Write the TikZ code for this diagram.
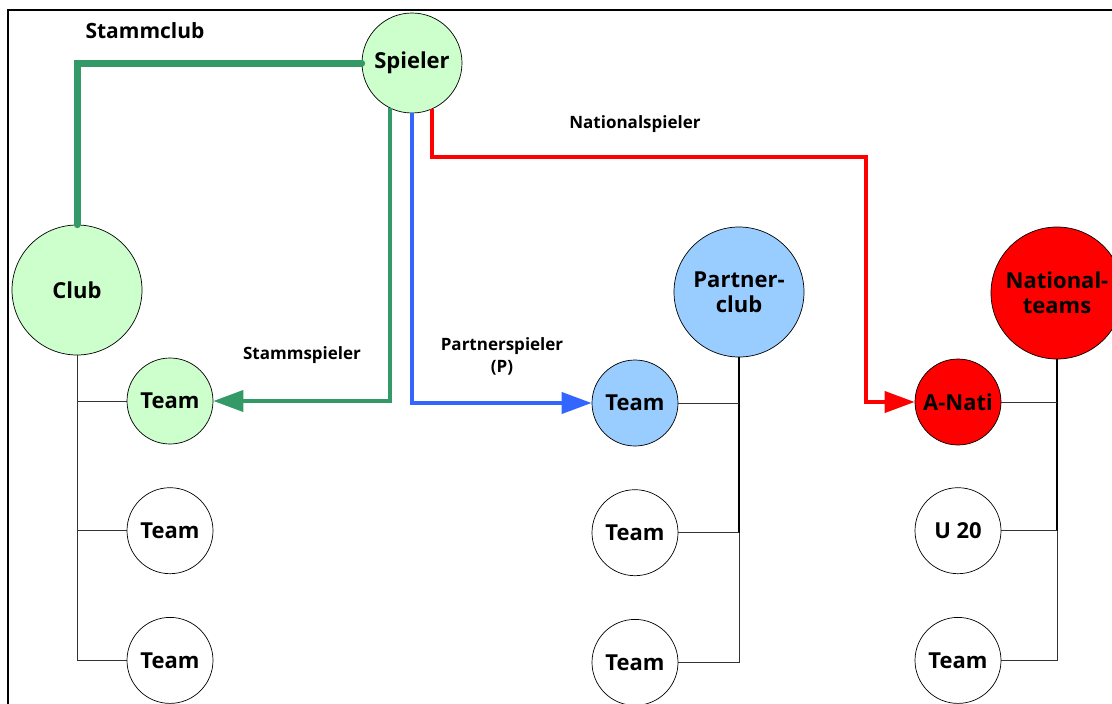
\documentclass[tikz,border=0pt]{standalone}
\usepackage{fontspec}
\setmainfont{Open Sans}
\usepackage{tikz}
\usetikzlibrary{arrows.meta, positioning}

\definecolor{spielgreen}{HTML}{CCFFCC}
\definecolor{stammgreen}{HTML}{339966}
\definecolor{partnerblue}{HTML}{99CCFF}
\definecolor{linkblue}{HTML}{3366FF}
\definecolor{natired}{HTML}{FF0000}

\begin{document}
\begin{tikzpicture}[x=1pt, y=-1pt,
    ball/.style={circle, draw, line width=0.7pt, inner sep=0pt, minimum size=86pt,
        font=\fontsize{22}{25}\selectfont\bfseries, align=center},
    bigball/.style={ball, minimum size=130pt},
    lbl/.style={font=\fontsize{17}{22}\selectfont\bfseries, align=center},
    link/.style={line width=4pt, -{Triangle[length=30pt, width=21pt]}},
    branch/.style={line width=0.8pt, black!80},
    trunk/.style={line width=1.8pt}]
    \useasboundingbox (0,0) rectangle (1112,704);
    \draw[line width=2pt] (8,10) rectangle (1130,720);

    % Spieler and the three clubs
    \node[ball, fill=spielgreen, minimum size=100pt] (spieler) at (412,63) {Spieler};
    \node[bigball, fill=spielgreen] (club) at (77,290) {Club};
    \node[bigball, fill=partnerblue] (pclub) at (739,292) {Partner-\\club};
    \node[bigball, fill=natired, minimum size=132pt] (nati) at (1057,293) {National-\\teams};

    % teams
    \node[ball, fill=spielgreen] (team1) at (170,401) {Team};
    \node[ball, below=43pt of team1] (team2) {Team};
    \node[ball, below=43pt of team2] (team3) {Team};

    \node[ball, fill=partnerblue] (pteam1) at (635,403) {Team};
    \node[ball, below=43pt of pteam1] (pteam2) {Team};
    \node[ball, below=43pt of pteam2] (pteam3) {Team};

    \node[ball, fill=natired] (anati) at (958,402) {A-Nati};
    \node[ball, below=42pt of anati] (u20) {U 20};
    \node[ball, below=43pt of u20] (nteam) {Team};

    % tree lines
    \draw[branch] (club.south) |- (team3.west);
    \draw[branch] (club.south |- team1) -- (team1.west);
    \draw[branch] (club.south |- team2) -- (team2.west);

    \draw[trunk] (pclub.south) -- (pclub.south |- pteam2);
    \draw[branch] (pclub.south |- pteam2) |- (pteam3.east);
    \draw[branch] (pteam1.east) -- (pclub.south |- pteam1);
    \draw[branch] (pteam2.east) -- (pclub.south |- pteam2);

    \draw[trunk] (nati.south) -- (nati.south |- u20);
    \draw[branch] (nati.south |- u20) |- (nteam.east);
    \draw[branch] (anati.east) -- (nati.south |- anati);
    \draw[branch] (u20.east) -- (nati.south |- u20);

    % player links
    \coordinate (redturn) at (866,157);
    \draw[stammgreen, line width=7pt, line cap=round] (spieler.west) -| (club.north);
    \draw[link, stammgreen] (spieler.-116) |- (team1.east);
    \draw[link, linkblue] (spieler.south) |- (pteam1.west);
    \draw[link, natired] (spieler.-66) |- (redturn) |- (anati.west);

    % labels
    \node[lbl, font=\fontsize{21}{25}\selectfont\bfseries] (lstammclub) at (145,31) {Stammclub};
    \node[lbl] (lstamm) at (302,355) {Stammspieler};
    \node[lbl] (lpartner) at (502,356) {Partnerspieler\\(P)};
    \node[lbl] (lnati) at (635,124) {Nationalspieler};
\end{tikzpicture}
\end{document}
